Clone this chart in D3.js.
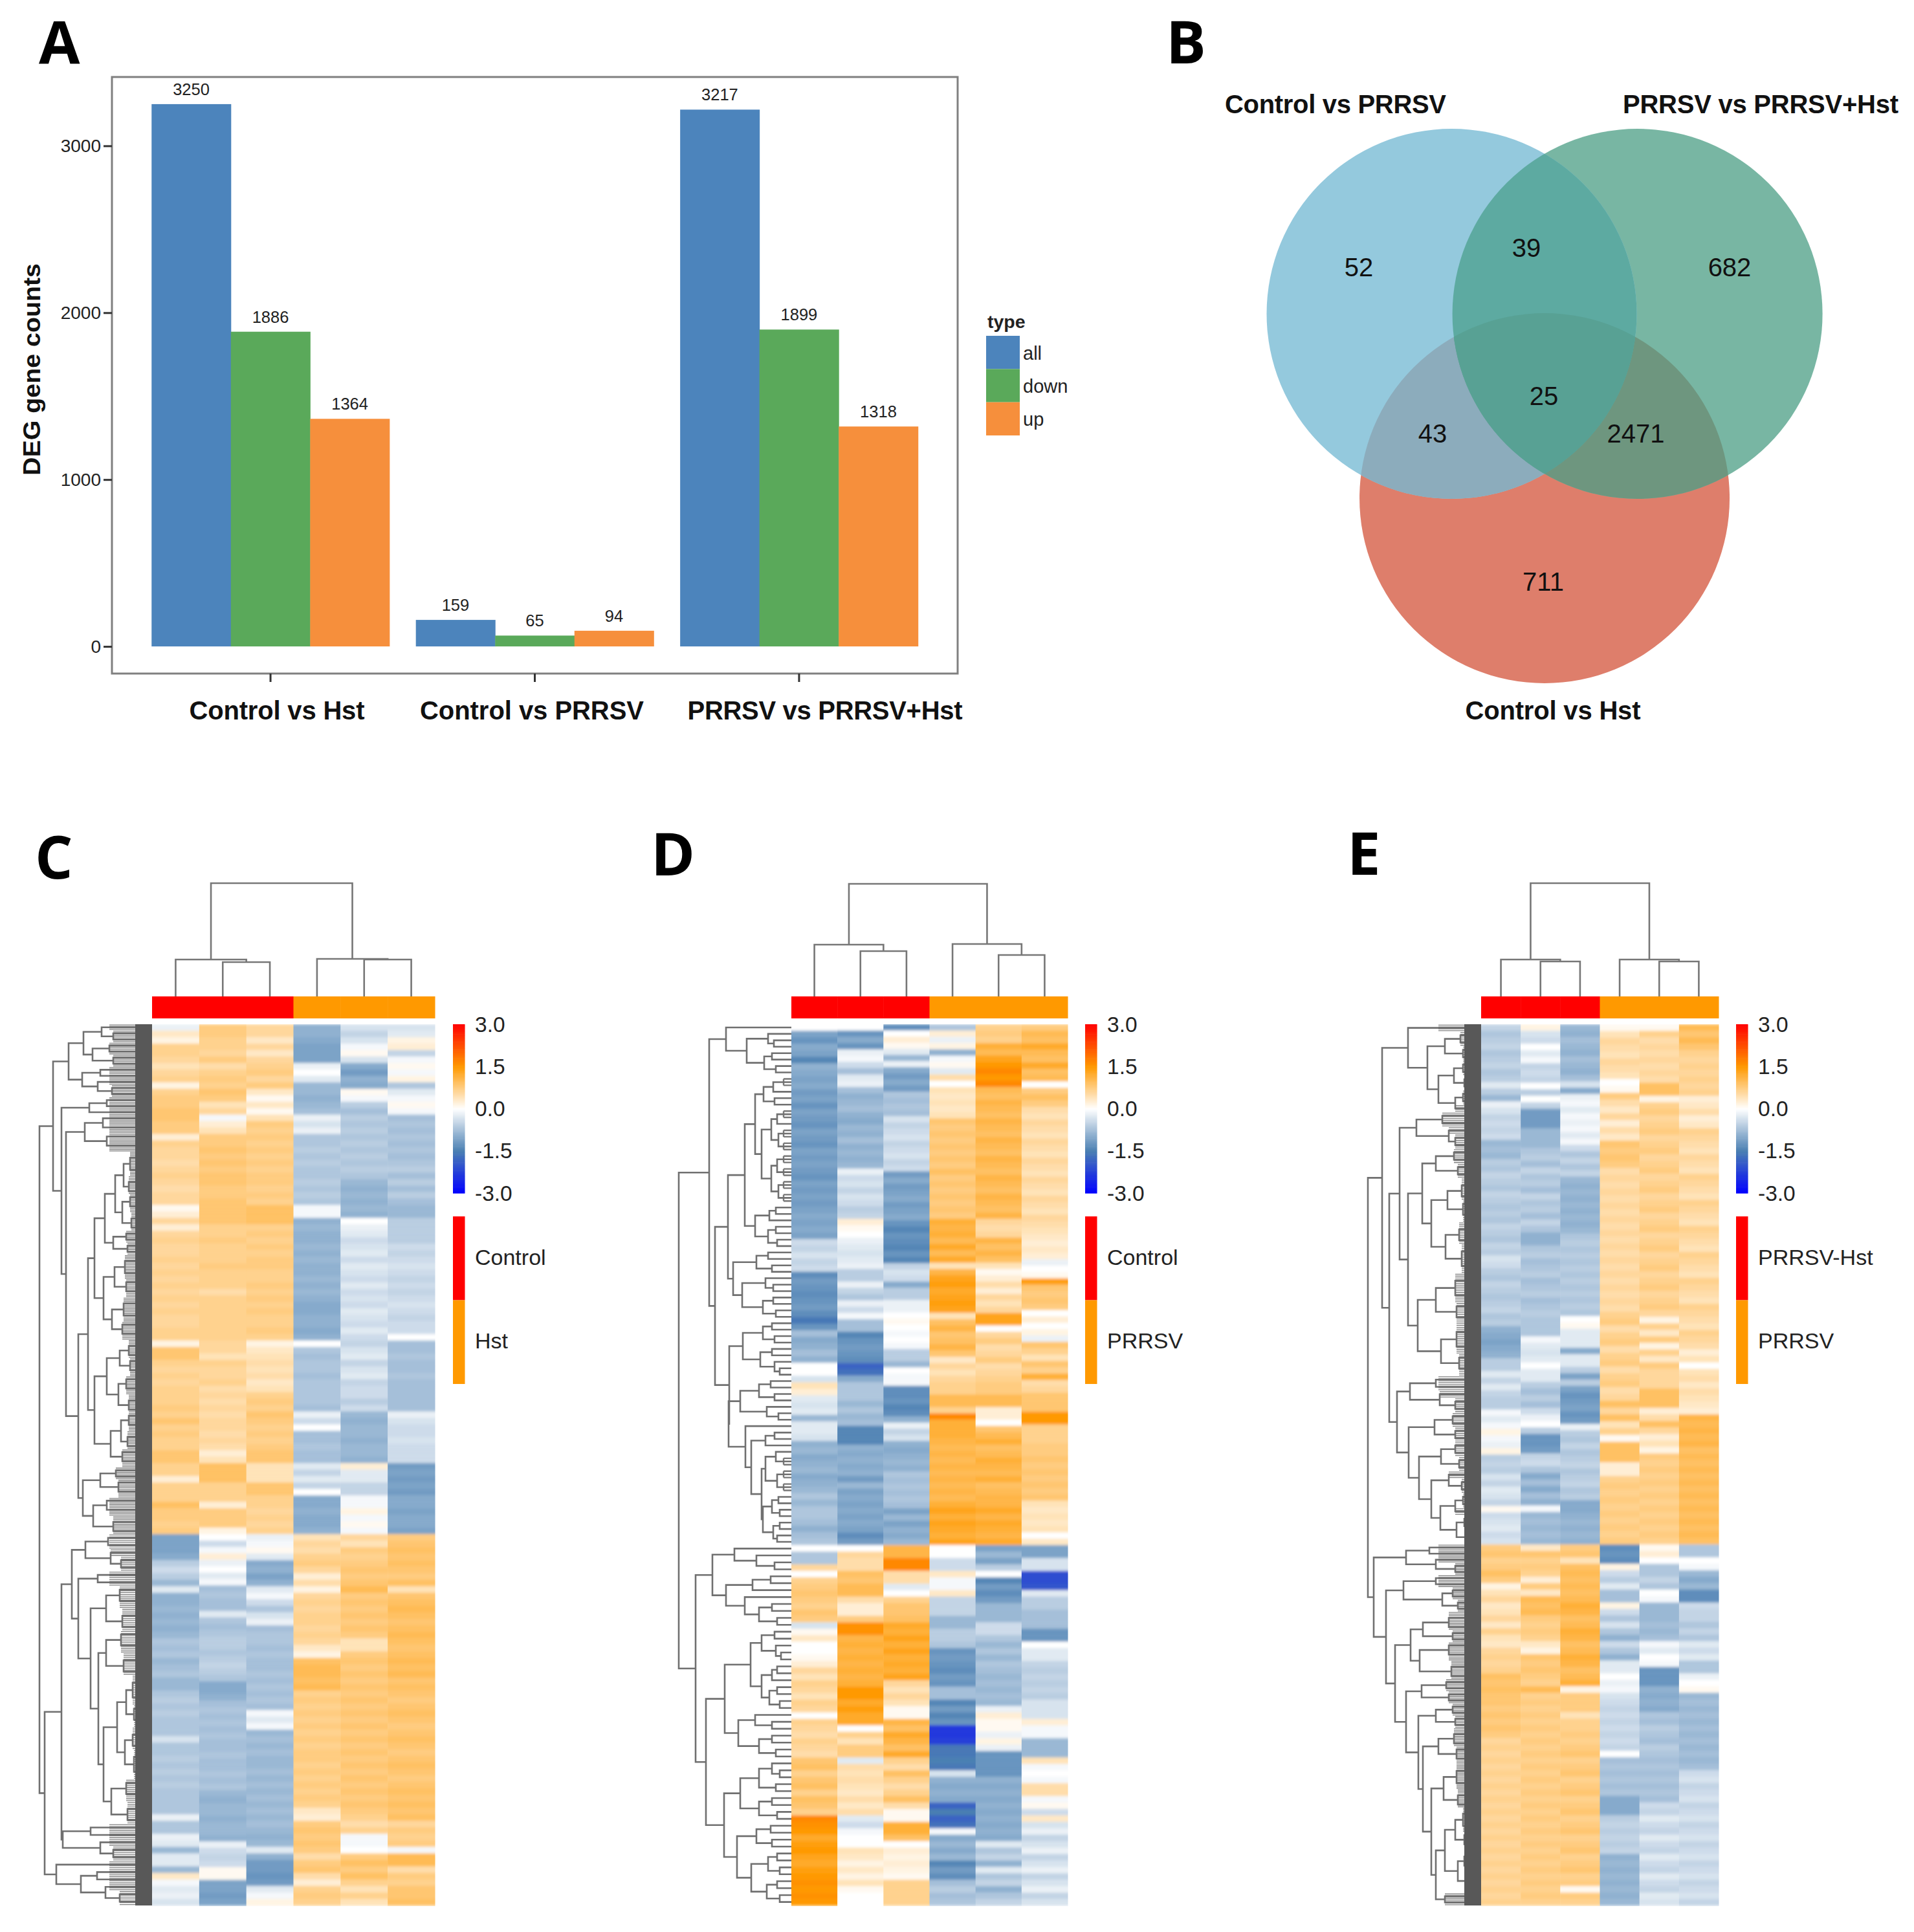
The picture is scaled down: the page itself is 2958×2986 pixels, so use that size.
<!DOCTYPE html>
<html><head><meta charset="utf-8">
<script src="https://cdn.jsdelivr.net/npm/d3@7/dist/d3.min.js"></script>
<style>html,body{margin:0;padding:0;background:#fff}svg{display:block}text{font-family:"Liberation Sans",Arial,sans-serif}</style>
</head><body><div id="chart"></div>
<script>
// ---------- Panel A ----------
const categories=["Control vs Hst","Control vs PRRSV","PRRSV vs PRRSV+Hst"];
const types=["all","down","up"];
const allCounts=[3250,159,3217];
const downCounts=[1886,65,1899];
const upCounts=[1364,94,1318];
const yTicks=[0,1000,2000,3000];
const typeColors=["#4C84BC","#5AA95A","#F68F3C"];
// ---------- Panel B ----------
const vennSets=["Control vs PRRSV","PRRSV vs PRRSV+Hst","Control vs Hst"];
const vennLabels=["52","39","682","25","43","2471","711"];
// ---------- Heatmap colour legend ----------
const zTicks=[3,1.5,0,-1.5,-3];
const zDomain=[-3,-1.5,0,1.5,3];
const zColors=["#0000ff","#4a7fb2","#ffffff","#ff9900","#ff0000"];
// ---------- Panel C values (twelfths of z-score; [upper block, lower block]) ----------
const C1=[[-2,4,2,8,8,7,5,7,8,2,8,9,9,10,10,9,9,3,8,7,7,6,7,8,7,6,7,7,1,3,7,3,7,8,7,7,8,7,8,7,8,7,8,7,8,7,7,8,8,2,10,10,8,7,8,7,8,8,8,9,8,10,8,9,8,8,10,10,8,8,3,8,8,8,11,9,9,8,9],
[-13,-13,-13,-12,-7,-5,-7,-10,-3,-11,-11,-10,-11,-10,-11,-10,-8,-9,-8,-10,-9,-8,-10,-10,-8,-7,-8,-7,-8,-8,-8,-4,-8,-8,-7,-8,-7,-8,-7,-8,-8,-8,-8,-2,-8,-8,-2,-3,-10,-3,-3,-10,4,-1,-3,-2,-4]];
const C2=[[9,9,8,8,7,9,6,8,9,8,10,9,5,7,-1,3,5,9,9,10,9,10,9,10,10,9,9,10,10,10,10,8,8,9,8,8,8,9,8,8,8,6,8,8,8,8,8,8,8,7,7,5,8,7,7,8,6,7,6,7,6,7,7,6,7,6,3,5,11,11,11,8,8,8,3,9,9,9,2],
[0,-5,-1,3,-2,0,-3,-1,-9,-8,-9,-9,-3,-8,-9,-8,-7,-7,-8,-7,-6,-7,-8,-12,-12,-11,-9,-8,-9,-8,-9,-8,-9,-9,-8,-9,-9,-8,-9,-8,-10,-11,-10,-10,-11,-10,-10,-11,-2,-5,-6,-5,1,1,-13,-13,-14,-13]];
const C3=[[7,7,4,7,4,7,8,9,7,9,4,1,4,1,5,9,8,9,8,9,8,9,8,9,9,8,9,8,11,11,11,8,9,8,9,8,9,9,8,8,9,8,9,8,9,8,8,9,8,2,4,5,6,5,6,4,5,8,9,8,10,9,8,9,8,9,10,10,5,5,5,10,10,8,8,7,8,7,8],
[-2,-1,1,-3,-12,-11,-13,-11,-3,-1,-5,-8,-4,-2,-9,-8,-8,-9,-8,-9,-9,-8,-9,-8,-9,-8,-9,-1,-3,-1,-10,-9,-10,-9,-10,-10,-9,-10,-9,-10,-9,-10,-9,-10,-9,-10,-11,-10,-3,-11,-14,-14,-15,-14,-3,-1,2]];
const C4=[[-11,-11,-12,-13,-13,-13,-2,0,-3,-10,-10,-11,-10,-9,-2,-4,-2,-8,-8,-7,-8,-7,-8,-8,-7,-8,-7,-8,-1,-1,-11,-10,-11,-11,-10,-11,-10,-11,-11,-10,-11,-10,-11,-12,-12,-11,-11,-12,-11,0,-8,-9,-8,-8,-9,-8,-8,-8,-8,-9,-2,-5,0,-9,-9,-8,-9,-9,-3,-6,-3,-6,0,-12,-12,-11,-12,-12,-11],
[5,7,6,8,9,7,3,6,2,7,8,7,8,8,7,8,7,4,2,11,12,12,11,12,8,9,8,9,8,9,8,9,8,9,9,8,9,8,9,8,9,8,4,3,9,10,9,10,9,6,9,10,6,3,8,9,8]];
const C5=[[-4,-6,-4,-1,1,-4,-12,-14,-11,-12,1,-1,-7,-9,-7,-8,-7,-8,-7,-8,-7,-8,-7,-8,-10,-11,-10,-11,-10,-11,0,-2,-3,-5,-4,-3,-5,-3,-4,-5,-3,-5,-4,-5,-3,-4,-5,-3,-5,-6,-4,-3,-6,-4,-3,-6,-5,-5,-7,-5,-10,-11,-10,-10,-11,-10,-10,-11,3,-3,-3,-6,-6,-1,-1,2,-1,1,-1],
[7,5,9,8,9,10,9,10,12,9,10,9,10,9,10,9,5,5,9,10,9,10,9,10,9,10,9,10,9,10,9,10,9,10,9,10,9,10,9,10,9,10,9,8,6,8,-1,-1,0,9,11,9,11,8,5,8,5]];
const C6=[[-4,-3,2,3,-6,-1,1,-1,2,-8,-3,-1,1,-1,-9,-8,-9,-8,-9,-8,-9,-8,-7,-9,-7,-9,-7,-9,-10,-10,-7,-7,-7,-7,-5,-6,-5,-4,-5,-6,-5,-6,-5,-4,-5,-6,-5,-5,0,-9,-9,-8,-9,-9,-8,-9,-9,-9,-9,-9,-2,-4,-5,-5,-4,-5,-5,-5,-14,-13,-14,-13,-14,-12,-12,-13,-12,-12,-13],
[9,10,11,10,11,10,9,11,5,10,11,12,11,10,11,12,11,10,11,12,11,12,10,11,10,9,10,11,10,9,10,11,10,9,10,11,10,9,10,11,10,11,10,11,7,9,8,9,-1,12,12,6,9,8,10,10,11]];
// ---------- Panel D values ----------
const D1=[[0,-13,-15,-12,-13,-17,-11,-12,-13,-12,-14,-13,-15,-13,-14,-15,-13,-14,-15,-13,-14,-13,-14,-15,-13,-14,-13,-14,-13,-12,-13,-12,-13,-5,-6,-4,-6,-5,-16,-14,-15,-16,-15,-14,-16,-19,-15,-9,-12,-11,-9,-11,0,0,-4,5,3,-3,-4,-3,-10,-3,-3,-4,-11,-10,-12,-11,-10,-12,-11,-10,-8,-10,-8,-8,-9,-11,-9,-8],
[0,-8,-8,7,0,8,9,10,9,8,10,9,-4,1,4,0,0,1,3,7,5,8,7,5,8,7,0,8,7,6,8,7,6,10,11,8,10,11,8,11,10,8,20,19,18,15,17,18,16,15,17,18,19,18,19,18]];
const D2=[[0,-15,-12,-15,-2,-1,-5,-9,-3,-2,-9,-11,-10,-9,-11,-12,-10,-11,-9,-11,-10,-11,-10,-2,-5,-4,-6,-4,-5,-7,-6,3,1,0,-2,-3,-4,-3,-2,-7,-7,-2,-6,-8,-2,-5,-1,-9,-9,-17,-15,-14,-15,-16,-22,-20,-12,-8,-8,-8,-10,-8,-10,-9,-17,-17,-17,-11,-12,-11,-12,-11,-14,-10,-13,-12,-13,-12,-13,-12,-13,-16,-14],
[0,7,6,6,11,10,12,12,6,3,3,9,19,19,13,14,13,14,13,14,13,14,18,18,15,17,15,15,0,8,5,9,9,-3,6,5,6,5,4,6,4,6,-3,-5,-1,0,0,5,4,2,4,2,5,1,0,0]];
const D3=[[-16,0,3,1,-3,-10,-2,-12,-14,-12,-14,-8,-9,-8,-9,-4,-6,-5,-4,-6,-5,-4,-6,-5,-14,-12,-14,-13,-12,-14,-13,-12,-15,-17,-15,-16,-17,-15,-17,-6,-4,-5,-12,-7,-7,-2,-2,0,1,0,-1,0,-1,-7,-7,-10,0,-1,-1,-16,-16,-15,-17,-16,-11,-2,-6,-4,-11,-12,-11,-10,-11,-8,-9,-8,-9,-8,-9,-13,-10,-13,-11,-12,-10],
[13,13,20,20,6,6,-3,0,8,10,10,11,15,14,16,14,16,14,15,14,16,7,5,7,5,1,1,13,11,15,13,11,15,8,6,11,8,6,8,11,6,1,1,14,14,11,0,3,2,3,2,1,8,8,8,8]];
const D4=[[-8,3,-2,2,-11,-1,1,-3,6,0,5,4,5,4,5,10,9,10,9,10,9,10,9,11,9,10,9,10,9,10,9,14,13,14,12,15,12,15,5,13,16,17,15,16,17,16,5,11,13,10,11,13,10,4,7,5,7,8,8,12,12,8,20,14,14,14,13,12,13,12,13,12,13,12,13,12,14,16,14,16,15,14,16],
[0,0,-5,-5,4,-1,-1,4,-6,-6,-6,-10,-10,-7,-7,-8,-15,-14,-15,-16,-14,-15,-9,-9,-17,-14,-17,-15,-28,-28,-27,-19,-19,-18,-19,-4,-11,-12,-11,-12,-22,-18,-22,-20,-1,-12,-10,-12,-10,-17,-14,-16,-9,-7,-9,-8]];
const D5=[[8,9,8,14,12,16,18,20,18,20,12,11,13,12,11,13,12,11,13,12,11,13,12,11,13,12,11,13,12,11,13,7,6,7,13,11,13,11,5,1,3,6,3,7,5,7,16,16,0,7,9,6,7,9,6,7,8,9,9,12,12,3,3,0,10,12,14,11,12,14,13,12,14,11,12,13,13,15,13,15,14,13,15],
[-13,-10,-13,-7,0,-17,-14,-16,-14,-10,-10,-10,-5,-5,-8,-10,-8,-10,-8,-9,-10,-9,-10,-9,-10,-2,3,1,1,-2,2,-2,-15,-15,-15,-15,-11,-12,-11,-12,-11,-12,-11,-12,-11,-12,-3,-8,-6,-11,-3,-8,-6,-11,-8,-6]];
const D6=[[9,12,11,15,12,11,15,11,12,0,9,11,9,6,5,7,6,5,7,6,5,7,6,5,7,6,5,7,6,5,7,6,5,4,3,4,3,-2,0,1,17,10,9,10,9,0,3,0,2,-2,10,8,5,10,8,14,6,7,10,10,10,18,18,8,8,8,9,9,10,9,10,9,10,9,10,5,4,5,4,5,0,4],
[-13,-13,-4,-4,-25,-25,-24,-3,-7,-7,-9,-9,-9,-15,-15,0,-3,-3,-6,-7,-6,-7,-6,-7,-4,-4,-4,3,-1,-1,-10,-10,-10,5,-1,0,-1,6,6,-1,1,-5,4,-4,-2,-6,-4,-2,-6,-4,-2,-6,-4,-2,-6,-4]];
// ---------- Panel E values ----------
const E1=[[-6,-8,-7,-6,-8,-7,-6,-8,-7,-3,-7,-10,-2,-4,-6,-5,-6,-5,-10,-9,-10,-7,-8,-6,-7,-8,-6,-7,-8,-7,-8,-6,-7,-8,-6,-7,-4,-5,-7,-8,-6,-7,-8,-7,-6,-8,-7,-11,-12,-13,-12,-11,-7,-7,-3,-6,-3,-6,-7,-7,-1,-3,-1,2,-1,-2,2,-7,-6,-7,-4,-6,-3,-4,-6,1,-5,-4,-3,-5,-4],
[9,10,8,9,11,9,2,5,7,4,5,7,4,8,5,4,7,8,7,8,11,10,11,10,10,9,10,9,10,9,7,8,7,8,7,8,7,8,7,8,7,8,7,8,7,8,7,8,7,8,7,8,7,8,7,8]];
const E2=[[2,-4,-5,0,-3,-1,-6,-5,-6,0,-7,0,-6,-14,-14,-14,-10,-10,-10,-8,-7,-9,-6,-8,-7,-9,-6,-8,-7,-9,-6,-8,-11,-11,-8,-7,-9,-8,-7,-9,-8,-7,-9,-8,-7,-8,-8,-8,-1,-3,-4,-3,0,-3,-3,-7,-9,-7,-9,-5,-2,0,-7,-15,-15,-14,-6,-5,-8,-12,-9,-12,-9,-11,-1,-10,-9,-10,-9,-10],
[4,10,8,9,8,3,9,4,12,11,12,9,8,9,8,4,2,10,9,10,9,8,12,8,9,8,9,8,9,8,9,8,9,8,9,8,9,8,9,8,9,8,9,8,9,8,9,8,9,8,9,8,9,8,9,8]];
const E3=[[-10,-11,-9,-10,-11,-9,-10,-11,-9,-4,-12,-2,-1,-3,-1,-2,-1,-3,-1,-5,-8,-6,-8,-6,-10,-11,-10,-11,-10,-11,-10,-11,-10,-8,-7,-8,-7,-8,-7,-8,-7,-8,-7,-8,-7,-8,0,1,-3,-3,-3,-12,-3,-3,-7,-13,-7,-13,-15,-14,-13,-15,-14,-2,-7,-8,-6,-8,-7,-6,-8,-7,-6,-8,-7,-12,-12,-11,-10,-11,-10,-11],
[9,10,5,11,12,11,12,11,12,14,13,11,12,14,13,11,12,14,13,11,12,14,2,9,9,9,5,8,8,9,8,9,10,8,9,10,8,9,10,8,9,10,8,9,10,8,9,10,8,9,10,8,9,1,9,8]];
const E4=[[1,5,7,6,5,7,6,5,0,1,9,6,4,7,3,6,4,10,9,10,9,6,7,6,7,6,7,6,7,6,7,6,7,6,7,6,7,6,7,6,7,6,8,9,6,8,9,6,8,9,6,8,9,6,7,11,7,11,5,8,1,11,11,11,3,3,8,9,8,9,8,9,8,9,8,9],
[-16,-15,-16,2,-5,-7,-3,-9,-9,2,-5,-8,-4,-8,-11,-5,-8,-11,-3,-3,0,-2,-1,-4,-5,-6,-5,-6,-5,-6,-5,-6,0,-9,-8,-9,-8,-9,-8,-12,-12,-12,-7,-6,-7,-6,-7,-6,-11,-10,-11,-10,-11,-10,-11,-10]];
const E5=[[1,8,6,7,6,7,6,7,6,11,11,2,8,9,7,8,9,7,8,9,7,8,9,7,8,9,7,8,9,7,8,9,7,8,9,7,8,9,7,8,9,7,8,9,7,2,8,4,9,2,8,4,9,7,7,7,11,11,11,3,6,11,7,3,5,2,9,8,9,8,9,8,9,8,9,8,9,8,9,8],
[1,3,0,-8,-8,-6,-8,0,-1,-10,-10,-10,-9,-10,-9,-1,-3,0,-1,-15,-15,-15,-11,-12,-11,-12,-8,-9,-7,-8,-9,-7,-8,-9,-8,-9,-8,-9,-8,-9,-5,-6,-3,-5,-6,-3,-5,-6,-3,-5,-6,-3,-5,-6,-3,-4]];
const E6=[[12,10,12,10,8,7,8,7,8,7,8,3,4,6,3,4,8,7,6,5,7,6,5,8,7,6,5,8,7,6,5,8,7,6,5,8,7,6,5,8,7,6,5,8,7,6,5,8,7,6,3,5,0,5,6,4,6,5,4,3,13,12,13,12,13,11,12,11,12,11,12,11,12,11,12,11,12,11,12,11],
[-8,-8,0,-1,-10,-12,-10,-16,-16,-5,-6,-6,-8,-6,-8,-3,-5,-3,-8,-8,-2,0,1,-10,-9,-10,-9,-10,-9,-10,-9,-10,-9,-10,-9,-5,-4,-6,-5,-4,-6,-5,-4,-6,-5,-4,-6,-5,-4,-6,-5,-4,-6,-5,-4,-6]];
// ---------- Dendrograms: [height, child, child]; a bare number is a leaf with that many rows ----------
const colTreeC=[175,[57,1,[53,1,1]],[58,1,[57,1,1]]];
const colTreeD=[174,[80,1,[70,1,1]],[81,1,[64,1,1]]];
const colTreeE=[175,[57,1,[54,1,1]],[57,1,[54,1,1]]];
const rowTreeC=[174,
 [153,
  [129,[106,[78,1,[60,1,1]],[92,[66,1,1],[60,1,1]]],[108,[80,1,1],[84,1,[62,1,1]]]],
  [140,[97,[70,1,1],1],
   [133,[104,[76,1,2],[70,1,2]],
    [114,
     [99,
      [89,[73,[57,[44,[34,2,2],[36,2,1]],[46,[34,1,2],[32,2,1]]],[60,[40,1,1],[38,1,1]]],
          [75,[58,[42,2,2],[40,1,2]],[62,[44,2,2],[46,1,2]]]],
      [89,[70,[50,[36,2,1],[34,1,2]],[52,[40,1,2],[36,2,1]]],[64,[48,[36,1,2],[38,2,1]],[46,1,2]]]],
     [107,[80,[56,1,1],[52,1,2]],[91,[70,1,2],[60,2,1]]]]]]],
 [166,
  [140,
   [124,[103,[68,1,1],[64,1,[48,1,1]]],
    [114,[84,1,1],
     [95,[71,[50,1,2],[46,2,1]],
      [83,[71,[48,1,2],[44,2,1]],
       [75,[54,[40,[30,2,2],[28,1,2]],[42,[30,2,1],[28,2,2]]],[63,[40,1,2],[38,2,1]]]]]]],
   [138,[95,1,1],[80,1,[60,1,1]]]],
  [148,1,[110,[85,1,1],[72,1,[50,1,1]]]]]];
const rowTreeD=[174,
 [127,
  [101,1,[69,[36,1,[27,1,1]],[42,[30,1,1],[24,1,1]]]],
  [118,
   [98,
    [72,
     [56,[43,[28,2,1],[26,1,1]],[46,[31,[22,2,1],[20,2,2]],[31,[22,2,2],[20,2,2]]]],
     [56,[34,[24,1,1],1],[36,[24,1,1],[22,1,1]]]],
    [90,[54,[36,1,1],[30,1,1]],[76,[40,1,[28,1,1]],[44,[28,1,1],[24,1,1]]]]],
   [96,
    [75,[44,[30,1,1],[26,1,1]],[48,[30,1,1],[26,1,[18,1,1]]]],
    [97,
     [79,[50,[32,1,1],[26,1,1]],[38,1,[20,1,1]]],
     [71,1,[62,[40,[26,1,1],1],[46,[40,[24,1,2],[22,2,2]],[44,[30,[20,1,1],[18,1,1]],[28,[18,1,1],[22,1,1]]]]]]]]]],
 [148,
  [122,[88,1,[54,1,[26,1,1]]],[101,[60,[32,1,1],1],[72,1,[50,[30,1,1],[22,1,1]]]]],
  [132,
   [103,
    [63,[46,[26,1,1],[24,1,[16,1,1]]],[46,[30,[22,1,1],1],[34,[22,1,1],[18,1,1]]]],
    [82,[56,1,[30,1,1]],[50,[30,1,1],[24,1,1]]]],
   [104,
    [79,[50,[30,1,[18,1,1]],[24,1,1]],[50,[30,1,1],[22,1,1]]],
    [84,[54,[32,1,1],[30,1,1]],[62,[36,[22,1,1],[18,1,1]],[38,[22,1,1],[18,1,1]]]]]]]];
const rowTreeE=[175,
 [153,
  [113,1,[83,[56,[32,1,1],[28,1,1]],[66,[42,[28,1,1],[26,1,1]],[40,[28,1,1],1]]]],
  [142,
   [126,
    [100,[60,1,1],[50,1,[40,1,1]]],
    [113,
     [91,[70,[42,1,1],[36,1,1]],[77,[52,[30,2,1],[28,1,2]],[55,[34,2,1],[30,2,2]]]],
     [98,[70,[40,2,2],[38,1,2]],[62,[38,2,2],[34,1,2]]]]],
   [130,
    [110,[70,1,1],[64,1,[40,1,1]]],
    [112,[72,[44,1,1],[40,1,1]],
     [96,[62,[40,1,1],[34,1,1]],
      [77,[50,1,[30,1,1]],[63,[40,[28,1,1],1],[38,[26,1,1],[24,1,1]]]]]]]]],
 [166,
  [116,[80,1,1],[70,1,[40,1,1]]],
  [147,
   [120,[70,1,1],[60,[44,1,1],[36,1,1]]],
   [133,
    [109,[90,[50,2,1],[44,1,1]],[95,[50,1,2],[46,2,1]]],
    [116,
     [92,[54,1,1],[50,1,1]],
     [97,[70,[44,1,1],[40,1,1]],
      [90,[66,[42,2,1],[38,1,2]],
       [77,[58,[38,2,2],[36,2,1]],
        [70,[56,[40,[28,2,2],[26,1,2]],[36,[26,2,1],[24,2,2]]],[56,1,1]]]]]]]]]];

// =============== drawing ===============
const W=2958,H=2986;
const svg=d3.select("#chart").append("svg").attr("width",W).attr("height",H).attr("viewBox",`0 0 ${W} ${H}`);
svg.append("rect").attr("width",W).attr("height",H).attr("fill","#fff");
const soft=svg.append("defs").append("filter").attr("id","soft").attr("x","0").attr("y","0").attr("width","1").attr("height","1");
soft.append("feGaussianBlur").attr("stdDeviation","0.7 2.2").attr("edgeMode","duplicate");
function panelLetter(t,x,y){svg.append("text").attr("x",x).attr("y",y).text(t)
  .style("font-family","'Open Sans',sans-serif").style("font-weight",700).style("font-size","92px").attr("fill","#000");}
function boldLabel(t,cx,cy,len,sel){(sel||svg).append("text").attr("x",cx).attr("y",cy).attr("text-anchor","middle").attr("dominant-baseline","central")
  .attr("textLength",len).attr("lengthAdjust","spacing").attr("font-weight",700).attr("font-size",40).attr("fill","#111").text(t);}

// --- A ---
(function(){
  const box={l:173,r:1480,t:119,b:1041};
  const x0=d3.scaleBand().domain(categories).range([box.l,box.r]).paddingInner(.1).paddingOuter(.15);
  const x1=d3.scaleBand().domain(types).range([0,x0.bandwidth()]);
  const y=d3.scaleLinear().domain([-162.5,3412.5]).range([box.b,box.t]);
  const color=d3.scaleOrdinal(types,typeColors);
  const series=[allCounts,downCounts,upCounts];
  const g=svg.append("g");
  const rows=categories.flatMap((c,i)=>types.map((t,j)=>({c,t,v:series[j][i]})));
  g.selectAll("rect.bar").data(rows).join("rect").attr("class","bar")
    .attr("x",d=>x0(d.c)+x1(d.t)).attr("width",x1.bandwidth()+.5)
    .attr("y",d=>y(d.v)).attr("height",d=>y(0)-y(d.v)).attr("fill",d=>color(d.t));
  g.selectAll("text.val").data(rows).join("text").attr("class","val")
    .attr("x",d=>x0(d.c)+x1(d.t)+x1.bandwidth()/2).attr("y",d=>y(d.v)-23)
    .attr("text-anchor","middle").attr("dominant-baseline","central").attr("font-size",25.5).attr("fill","#222").text(d=>d.v);
  g.append("rect").attr("x",box.l).attr("y",box.t).attr("width",box.r-box.l).attr("height",box.b-box.t)
    .attr("fill","none").attr("stroke","#808080").attr("stroke-width",3);
  const ay=svg.append("g").attr("transform",`translate(${box.l},0)`).call(d3.axisLeft(y).tickValues(yTicks).tickSize(13).tickPadding(4).tickFormat(d3.format("d")));
  ay.select(".domain").remove();
  ay.selectAll("line").attr("stroke","#333").attr("stroke-width",3);
  ay.selectAll("text").attr("font-size",28).attr("fill","#222").style("font-family","'Liberation Sans'");
  const ax=svg.append("g").attr("transform",`translate(0,${box.b})`).call(d3.axisBottom(x0).tickSize(13).tickFormat(""));
  ax.select(".domain").remove();
  ax.selectAll("line").attr("stroke","#333").attr("stroke-width",3);
  const centres=[428,822,1275],lens=[271,346,425];
  categories.forEach((c,i)=>boldLabel(c,centres[i],1098,lens[i]));
  svg.append("text").attr("transform","translate(49,571) rotate(-90)").attr("text-anchor","middle").attr("dominant-baseline","central")
    .attr("textLength",328).attr("lengthAdjust","spacingAndGlyphs").attr("font-weight",700).attr("font-size",36).attr("fill","#111").text("DEG gene counts");
  // legend
  const ly=d3.scaleBand().domain(types).range([519,673]);
  svg.append("text").attr("x",1526).attr("y",497).attr("dominant-baseline","central").attr("font-weight",700).attr("font-size",28.5).attr("fill","#222").text("type");
  svg.selectAll("rect.sw").data(types).join("rect").attr("class","sw").attr("x",1524).attr("width",52)
    .attr("y",d=>ly(d)).attr("height",ly.bandwidth()).attr("fill",d=>color(d));
  svg.selectAll("text.lg").data(types).join("text").attr("class","lg").attr("x",1581).attr("y",d=>ly(d)+ly.bandwidth()/2+1)
    .attr("dominant-baseline","central").attr("font-size",29).attr("fill","#222").text(d=>d);
  panelLetter("A",60,99);
})();

// --- B ---
(function(){
  const vx=d3.scaleLinear().domain([0,1]).range([2243.5,2530.6]);
  const vy=d3.scaleLinear().domain([0,1]).range([485,770]);
  const r=286;
  const circles=[{id:"vb",u:0,v:0,f:"#94C9DD"},{id:"vg",u:1,v:0,f:"#78B6A3"},{id:"vr",u:.5,v:1,f:"#DE7E6B"}];
  const defs=svg.append("defs");
  circles.forEach(c=>defs.append("clipPath").attr("id",c.id).append("circle").attr("cx",vx(c.u)).attr("cy",vy(c.v)).attr("r",r));
  const g=svg.append("g");
  const cs=[circles[2],circles[1],circles[0]];
  g.selectAll("circle").data(cs).join("circle").attr("cx",d=>vx(d.u)).attr("cy",d=>vy(d.v)).attr("r",r).attr("fill",d=>d.f);
  function overlap(a,b,c,fill){
    const ga=g.append("g").attr("clip-path",`url(#${a})`);
    const gb=ga.append("g").attr("clip-path",`url(#${b})`);
    const tgt=c?gb.append("g").attr("clip-path",`url(#${c})`):gb;
    tgt.append("rect").attr("x",1900).attr("y",150).attr("width",1000).attr("height",950).attr("fill",fill);
  }
  overlap("vb","vr",null,"#8CACBC");
  overlap("vg","vr",null,"#6E967F");
  overlap("vb","vg",null,"#5DAAA1");
  overlap("vb","vg","vr","#58A194");
  const pos=[[2100,413],[2359,383],[2673,413],[2386,612],[2214,670],[2528,670],[2385,899]];
  g.selectAll("text").data(vennLabels).join("text").attr("x",(d,i)=>pos[i][0]).attr("y",(d,i)=>pos[i][1])
    .attr("text-anchor","middle").attr("dominant-baseline","central").attr("font-size",40).attr("fill","#111").text(d=>d);
  boldLabel(vennSets[0],2064,161,342);
  boldLabel(vennSets[1],2721,161,426);
  boldLabel(vennSets[2],2400,1098,271);
  panelLetter("B",1802,98);
})();

// --- heatmaps ---
const zScale=d3.scaleLinear().domain(zDomain).range(zColors);
function hier(tree){return d3.hierarchy(tree,d=>Array.isArray(d)?d.slice(1):null);}
function assign(node,s){let cum=0;
  node.leaves().forEach(l=>{l.pos=s(cum+l.data/2);l.span=[s(cum),s(cum+l.data)];cum+=l.data;});
  node.eachAfter(n=>{if(n.children)n.pos=d3.mean(n.children,c=>c.pos);});}
function total(node){return d3.sum(node.leaves(),l=>l.data);}
function drawTree(g,root,hs,vertical,colr,sw){
  const pt=(h,p)=>vertical?`${p},${hs(h)}`:`${hs(h)},${p}`;
  const hOf=n=>n.children?n.data[0]:0;
  g.selectAll("path").data(root.descendants().filter(n=>n.children)).join("path")
    .attr("fill","none").attr("stroke",colr).attr("stroke-width",sw).attr("stroke-linejoin","miter")
    .attr("d",n=>{const [a,b]=n.children,h=n.data[0];
      return `M${pt(hOf(a),a.pos)}L${pt(h,a.pos)}L${pt(h,b.pos)}L${pt(hOf(b),b.pos)}`;});
}
function heatmap(o){
  const g=svg.append("g");
  const cx=d3.scaleBand().domain(d3.range(6)).range([o.left,o.right]);
  const cells=g.append("g").attr("filter","url(#soft)");
  o.cols.forEach((col,ci)=>{[0,1].forEach(part=>{
    const vals=col[part];
    const ry=d3.scaleBand().domain(d3.range(vals.length)).range(part?[o.mid,o.bottom]:[o.top,o.mid]);
    cells.append("g").selectAll("rect").data(vals).join("rect").attr("x",cx(ci)).attr("width",cx.bandwidth()+.5)
      .attr("y",(d,i)=>ry(i)).attr("height",ry.bandwidth()+.5).attr("fill",d=>zScale(d/12));
  });});
  // annotation strip
  g.append("g").selectAll("rect").data(d3.range(6)).join("rect").attr("x",d=>cx(d)).attr("width",cx.bandwidth()+.5)
    .attr("y",1540).attr("height",34).attr("fill",d=>d<3?"#ff0000":"#ff9900");
  // column dendrogram
  const ct=hier(o.colTree);
  assign(ct,d3.scaleLinear().domain([0,6]).range([o.left,o.right]));
  drawTree(g.append("g"),ct,d3.scaleLinear().domain([0,175]).range([1540,1365]),true,"#777",2.6);
  // row dendrogram
  const rt=hier(o.rowTree);
  const [up,lo]=rt.children;
  assign(up,d3.scaleLinear().domain([0,total(up)]).range([o.top,o.mid]));
  assign(lo,d3.scaleLinear().domain([0,total(lo)]).range([o.mid,o.bottom]));
  rt.pos=(up.pos+lo.pos)/2;
  const hx=d3.scaleLinear().domain([0,174]).range([o.left,o.left-174]);
  const tg=g.append("g");
  if(o.band){
    const fr=[];
    rt.leaves().forEach(l=>{const reach=Math.min(l.parent.data[0],o.band+40);
      const n=Math.round(l.data*4);
      d3.range(n).forEach(i=>fr.push({y:l.span[0]+(l.span[1]-l.span[0])*(i+.5)/n,reach}));});
    tg.append("g").selectAll("line").data(fr).join("line").attr("x1",o.left).attr("x2",d=>hx(d.reach))
      .attr("y1",d=>d.y).attr("y2",d=>d.y).attr("stroke","#808080").attr("stroke-width",1.3);
  } else {
    const lf=[];
    rt.leaves().filter(l=>l.data>1).forEach(l=>{lf.push(l);});
    tg.append("g").selectAll("path").data(lf).join("path").attr("fill","none").attr("stroke","#777").attr("stroke-width",2.4)
      .attr("d",l=>`M${hx(12)},${l.span[0]+5}V${l.span[1]-5}M${hx(12)},${l.span[0]+5}H${o.left}M${hx(12)},${l.span[1]-5}H${o.left}`);
  }
  drawTree(tg.append("g"),rt,hx,false,"#707070",2.6);
  if(o.band){
    tg.append("rect").attr("x",o.left-o.band).attr("y",o.top).attr("width",o.band).attr("height",o.bottom-o.top).attr("fill","#585858");
  }
  // colour key
  const ky=d3.scaleLinear().domain([3,-3]).range([1583,1844]);
  g.append("g").selectAll("rect").data(d3.range(-3,3,.05)).join("rect").attr("x",o.key).attr("width",18.5)
    .attr("y",d=>ky(d+.05)).attr("height",ky(0)-ky(.05)+.6).attr("fill",d=>zScale(d+.025));
  g.append("g").selectAll("text").data(zTicks).join("text").attr("x",o.key+34).attr("y",d=>ky(d))
    .attr("dominant-baseline","central").attr("font-size",33.5).attr("fill","#222").text(d=>d.toFixed(1));
  // group key
  const gy=d3.scaleBand().domain(o.groups).range([1880,2139]);
  g.append("g").selectAll("rect").data(o.groups).join("rect").attr("x",o.key).attr("width",18.5)
    .attr("y",d=>gy(d)).attr("height",gy.bandwidth()).attr("fill",(d,i)=>i?"#ff9900":"#ff0000");
  g.append("g").selectAll("text").data(o.groups).join("text").attr("x",o.key+34).attr("y",d=>gy(d)+gy.bandwidth()/2-2)
    .attr("dominant-baseline","central").attr("font-size",34).attr("fill","#222").text(d=>d);
  panelLetter(o.letter,o.lx,o.ly);
}
heatmap({letter:"C",lx:54,ly:1358,left:235,right:672,top:1583,mid:2371,bottom:2945,key:700,groups:["Control","Hst"],cols:[C1,C2,C3,C4,C5,C6],colTree:colTreeC,rowTree:rowTreeC,band:26});
heatmap({letter:"D",lx:1006,ly:1353,left:1223,right:1650,top:1583,mid:2388,bottom:2945,key:1677,groups:["Control","PRRSV"],cols:[D1,D2,D3,D4,D5,D6],colTree:colTreeD,rowTree:rowTreeD,band:0});
heatmap({letter:"E",lx:2082,ly:1352,left:2289,right:2656,top:1583,mid:2387,bottom:2945,key:2683,groups:["PRRSV-Hst","PRRSV"],cols:[E1,E2,E3,E4,E5,E6],colTree:colTreeE,rowTree:rowTreeE,band:26});
</script></body></html>
